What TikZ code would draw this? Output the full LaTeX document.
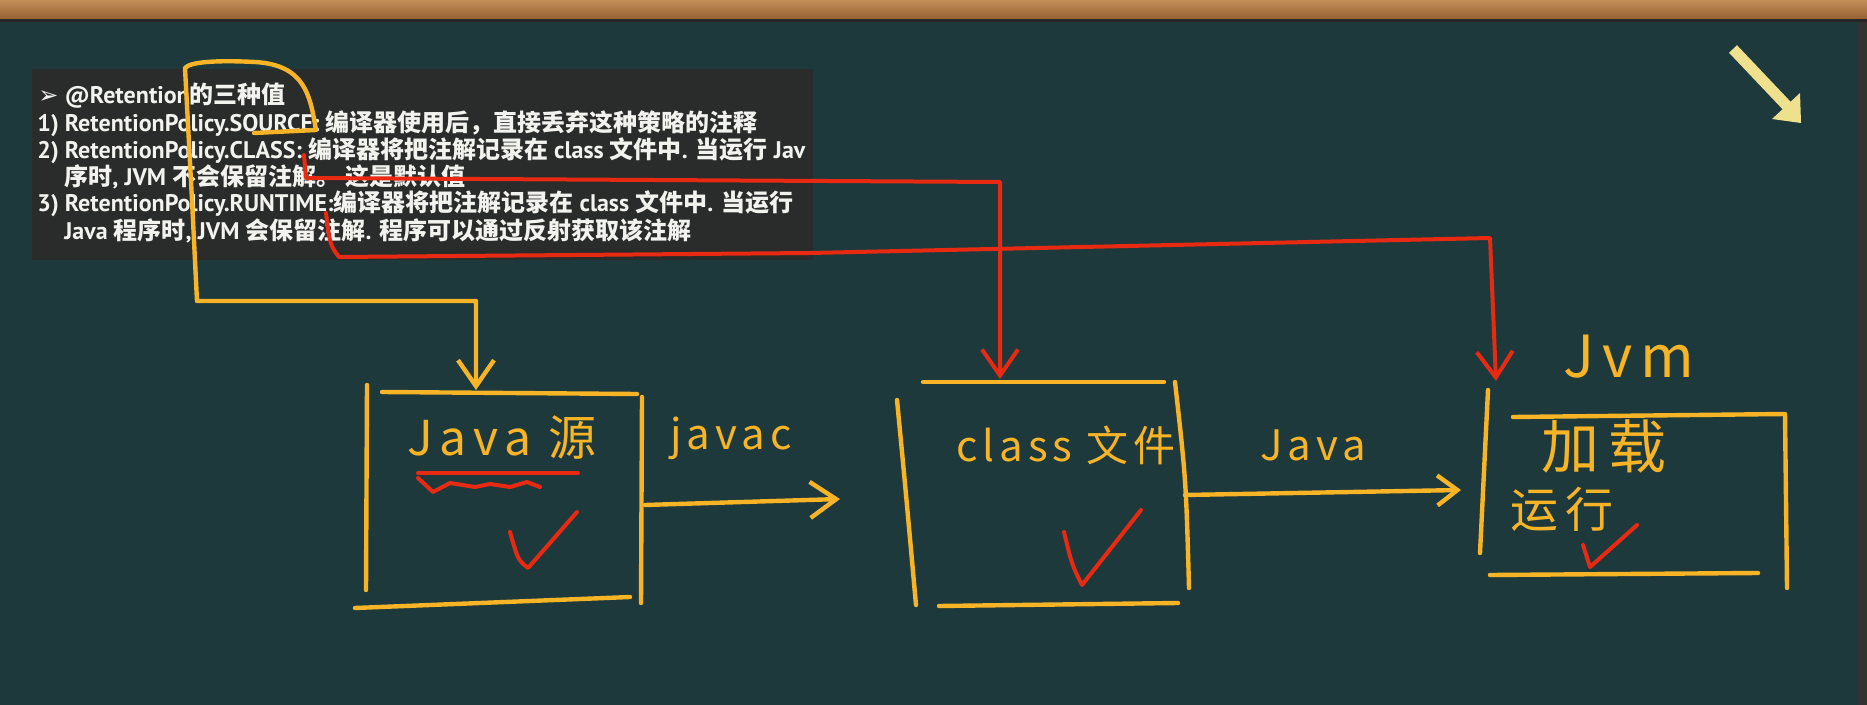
\documentclass[tikz,border=0pt]{standalone}
\usepackage{fontspec}
\setmainfont{PT Sans}
\newfontfamily\zhfont{Noto Sans CJK SC}
\newfontfamily\symfont{DejaVu Sans}
\usetikzlibrary{arrows.meta, positioning}
\definecolor{boardgreen}{RGB}{30,57,60}
\definecolor{woodbrown}{RGB}{150,96,50}
\definecolor{woodlight}{RGB}{196,142,88}
\definecolor{notegray}{RGB}{42,43,43}
\definecolor{notewhite}{RGB}{242,242,238}
\definecolor{penyellow}{RGB}{246,180,38}
\definecolor{penred}{RGB}{232,42,18}
\definecolor{paleyellow}{RGB}{238,224,140}
\newcommand{\zh}[1]{{\zhfont #1}}

\begin{document}
\begin{tikzpicture}[
    x=0.5pt, y=-0.5pt,
    note/.style={anchor=west, inner sep=0pt, text=notewhite, font=\bfseries\fontsize{12pt}{14pt}\selectfont},
    hand/.style={inner sep=0pt, text=penyellow, font=\zhfont\fontsize{21pt}{24pt}\selectfont\addfontfeature{LetterSpace=12}},
    bighand/.style={hand, font=\zhfont\fontsize{29pt}{32pt}\selectfont\addfontfeature{LetterSpace=14}},
    pen/.style={draw=penyellow, line width=2.2pt, line cap=round, line join=round},
    redpen/.style={draw=penred, line width=2pt, line cap=round, line join=round},
    hook/.style={-{Straight Barb[length=13pt, width=18pt]}}
]
% Board
\fill[boardgreen] (0,0) rectangle (1867,705);
\shade[top color=woodlight, bottom color=woodbrown] (0,0) rectangle (1867,19);
\fill[black!85] (0,19) rectangle (1867,22);
\fill[black!80] (1858,22) rectangle (1867,705);
\useasboundingbox (0,0) rectangle (1867,705);

% Slide with the three values
\fill[notegray] (32,69) rectangle (813,260);
\begin{scope}
\clip (32,69) rectangle (813,260);
\node[note] (head) at (38,96) {{\symfont\mdseries ➢}\ @Retention\zh{的三种值}};
\node[note] (srcline) at (37,124) {1) RetentionPolicy.SOURCE: \zh{编译器使用后，直接丢弃这种策略的注释}};
\node[note] (clsline) at (37,151) {2) RetentionPolicy.CLASS: \zh{编译器将把注解记录在} class \zh{文件中}. \zh{当运行} Jav};
\node[note] (clsmore) at (64,177) {\zh{序时}, JVM \zh{不会保留注解。 这是默认值}};
\node[note] (rtline) at (37,204) {3) RetentionPolicy.RUNTIME:\zh{编译器将把注解记录在} class \zh{文件中}. \zh{当运行}};
\node[note] (rtmore) at (64,231) {Java \zh{程序时}, JVM \zh{会保留注解}. \zh{程序可以通过反射获取该注解}};
\end{scope}

% Handwritten labels
\node[hand, font=\zhfont\fontsize{24pt}{26pt}\selectfont\addfontfeature{LetterSpace=14}] (javasrc) at (502,438) {Java 源};
\node[hand] (javac) at (731,438) {javac};
\node[hand] (classfile) at (1066,445) {class 文件};
\node[hand] (javarun) at (1313,445) {Java};
\node[bighand] (jvm) at (1629,357) {Jvm};
\node[bighand] (load) at (1604,446) {加载};
\node[hand, font=\zhfont\fontsize{24pt}{26pt}\selectfont\addfontfeature{LetterSpace=14}] (run) at (1562,509) {运行};

% Boxes
\draw[pen] (382,392) -- (637,394);
\draw[pen] (367,385) -- (366,590);
\draw[pen] (642,397) -- (641,603);
\draw[pen] (355,608) -- (630,597);
\draw[pen] (923,382) -- (1164,382);
\draw[pen] (897,400) .. controls (905,483) .. (916,605);
\draw[pen] (1175,382) .. controls (1186,480) .. (1189,588);
\draw[pen] (939,606) -- (1178,603);
\draw[pen] (1488,390) -- (1480,553);
\draw[pen] (1513,417) -- (1785,414) -- (1787,588);
\draw[pen] (1490,575) -- (1758,573);

% Connection points
\coordinate (srcmark) at (254,133);
\coordinate (srcin) at (476,390);
\coordinate (clsmark) at (304,155);
\coordinate (clsin) at (1000,379);
\coordinate (rtmark) at (326,213);
\coordinate (rtin) at (1496,381);
\coordinate (javaout) at (645,505);
\coordinate (classin) at (840,499);
\coordinate (classout) at (1185,495);
\coordinate (jvmin) at (1461,490);

% Retention arrows
\draw[pen, hook] (srcmark) -- (316,130) .. controls (310,95) and (305,65) .. (255,62)
    .. controls (215,60) and (190,62) .. (185,68) -- (192,200) -- (197,301) -- (476,301) -- (srcin);
\draw[redpen, hook] (clsmark) -- (306,178) -- (1000,182) -- (clsin);
\draw[redpen, hook] (rtmark) .. controls (330,245) .. (339,257) -- (810,253) -- (1490,238) -- (rtin);

% Compile and run arrows
\draw[pen, hook] (javaout) -- (classin);
\draw[pen, -{Straight Barb[length=10pt, width=15pt]}] (classout) -- (jvmin);

% Marks
\draw[redpen] (418,473) -- (578,473);
\draw[redpen] (418,478) -- (433,492) -- (450,483) -- (475,487) -- (490,484) -- (510,487) -- (527,482) -- (540,487);
\draw[redpen] (510,532) .. controls (518,560) .. (528,568) -- (577,512);
\draw[redpen] (1064,532) .. controls (1072,565) .. (1082,585) -- (1141,510);
\draw[redpen] (1583,545) -- (1590,567) -- (1637,525);

% Pointer at the top right
\draw[paleyellow, line width=5.5pt] (1733,49) -- (1788,107);
\fill[paleyellow] (1800,93) -- (1801,123) -- (1772,119) -- cycle;
\end{tikzpicture}
\end{document}
